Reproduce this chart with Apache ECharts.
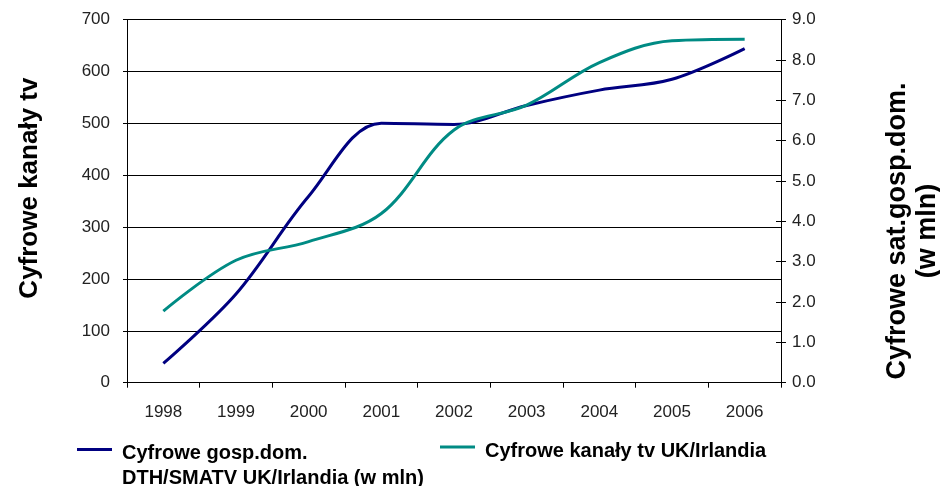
<!DOCTYPE html>
<html>
<head>
<meta charset="utf-8">
<script src="https://cdn.jsdelivr.net/npm/echarts@6/dist/echarts.min.js"></script>
<style>
  html, body { margin: 0; padding: 0; background: #fff; }
  #main { width: 940px; height: 486px; }
</style>
</head>
<body>
<div id="main"></div>
<script>
var years = ['1998', '1999', '2000', '2001', '2002', '2003', '2004', '2005', '2006'];
// households, millions (right axis)
var households = [0.48, 2.2, 4.62, 6.43, 6.4, 6.87, 7.25, 7.52, 8.28];
// digital channels (left axis)
var channels = [138, 236, 272, 326, 487, 535, 617, 659, 662];

var nameHouseholds = 'Cyfrowe gosp.dom.\nDTH/SMATV UK/Irlandia (w mln)';
var nameChannels = 'Cyfrowe kanały tv UK/Irlandia';

var font = 'Liberation Sans, Arial, sans-serif';
var chart = echarts.init(document.getElementById('main'));

// legend text: an empty first line pushes the block down so the icon sits at line one
function legendText(name) {
  var lines = name.split('\n').map(function (s) { return '{t|' + s + '}'; });
  return '{g| }\n' + lines.join('\n');
}
var legendRich = function (gap) {
  return {
    g: { fontSize: 4, lineHeight: gap },
    t: { fontFamily: font, fontSize: 20, fontWeight: 'bold', color: '#000', lineHeight: 25 }
  };
};

var option = {
  backgroundColor: '#fff',
  animation: false,
  textStyle: { fontFamily: font },
  grid: { left: 127, right: 159, top: 19.5, bottom: 103.3, outerBoundsMode: 'none', containLabel: false },
  legend: [{
    data: [nameHouseholds],
    left: 77,
    top: 422.5,
    padding: 0,
    icon: 'rect',
    itemWidth: 35,
    itemHeight: 3,
    formatter: legendText,
    textStyle: { padding: [0, 0, 0, 5], rich: legendRich(33) }
  }, {
    data: [nameChannels],
    left: 440,
    top: 432.5,
    padding: 0,
    icon: 'rect',
    itemWidth: 35,
    itemHeight: 3,
    formatter: legendText,
    textStyle: { padding: [0, 0, 0, 5], rich: legendRich(8) }
  }],
  xAxis: {
    type: 'category',
    data: years,
    boundaryGap: true,
    axisLine: { lineStyle: { color: '#000', width: 1 } },
    axisTick: { show: true, length: 5, lineStyle: { color: '#000' } },
    axisLabel: { fontSize: 17, color: '#222', margin: 21 }
  },
  yAxis: [{
    type: 'value',
    min: 0, max: 700, interval: 100,
    position: 'left',
    name: 'Cyfrowe kanały tv',
    nameLocation: 'middle',
    nameRotate: 90,
    nameGap: 84,
    nameTextStyle: { fontSize: 26, fontWeight: 'bold', color: '#000', padding: [0, 0, 0, 26] },
    axisLine: { show: true, lineStyle: { color: '#000' } },
    axisTick: { show: true, length: 4, lineStyle: { color: '#000' } },
    axisLabel: { fontSize: 17, color: '#222', margin: 17 },
    splitLine: { show: true, lineStyle: { color: '#000', width: 1 } }
  }, {
    type: 'value',
    min: 0, max: 9, interval: 1,
    position: 'right',
    name: 'Cyfrowe sat.gosp.dom.\n(w mln)',
    nameLocation: 'middle',
    nameRotate: 90,
    nameGap: 102,
    nameTextStyle: { fontSize: 27, fontWeight: 'bold', color: '#000', lineHeight: 30, padding: [0, 60, 0, 0] },
    axisLine: { show: true, lineStyle: { color: '#000' } },
    axisTick: { show: true, length: 5, lineStyle: { color: '#000' } },
    axisLabel: { fontSize: 17, color: '#222', margin: 11, formatter: function (v) { return v.toFixed(1); } },
    splitLine: { show: false }
  }, {
    // inner half of the crossing ticks on the right axis
    type: 'value',
    min: 0, max: 9, interval: 1,
    position: 'right',
    axisLine: { show: false },
    axisTick: { show: true, inside: true, length: 5, lineStyle: { color: '#000' } },
    axisLabel: { show: false },
    splitLine: { show: false }
  }],
  series: [{
    name: nameHouseholds,
    type: 'line',
    yAxisIndex: 1,
    data: households,
    smooth: 0.35,
    showSymbol: false,
    color: '#000080',
    lineStyle: { color: '#000080', width: 3 }
  }, {
    name: nameChannels,
    type: 'line',
    yAxisIndex: 0,
    data: channels,
    smooth: 0.35,
    showSymbol: false,
    color: '#008b84',
    lineStyle: { color: '#008b84', width: 3 }
  }]
};

chart.setOption(option);
</script>
</body>
</html>
